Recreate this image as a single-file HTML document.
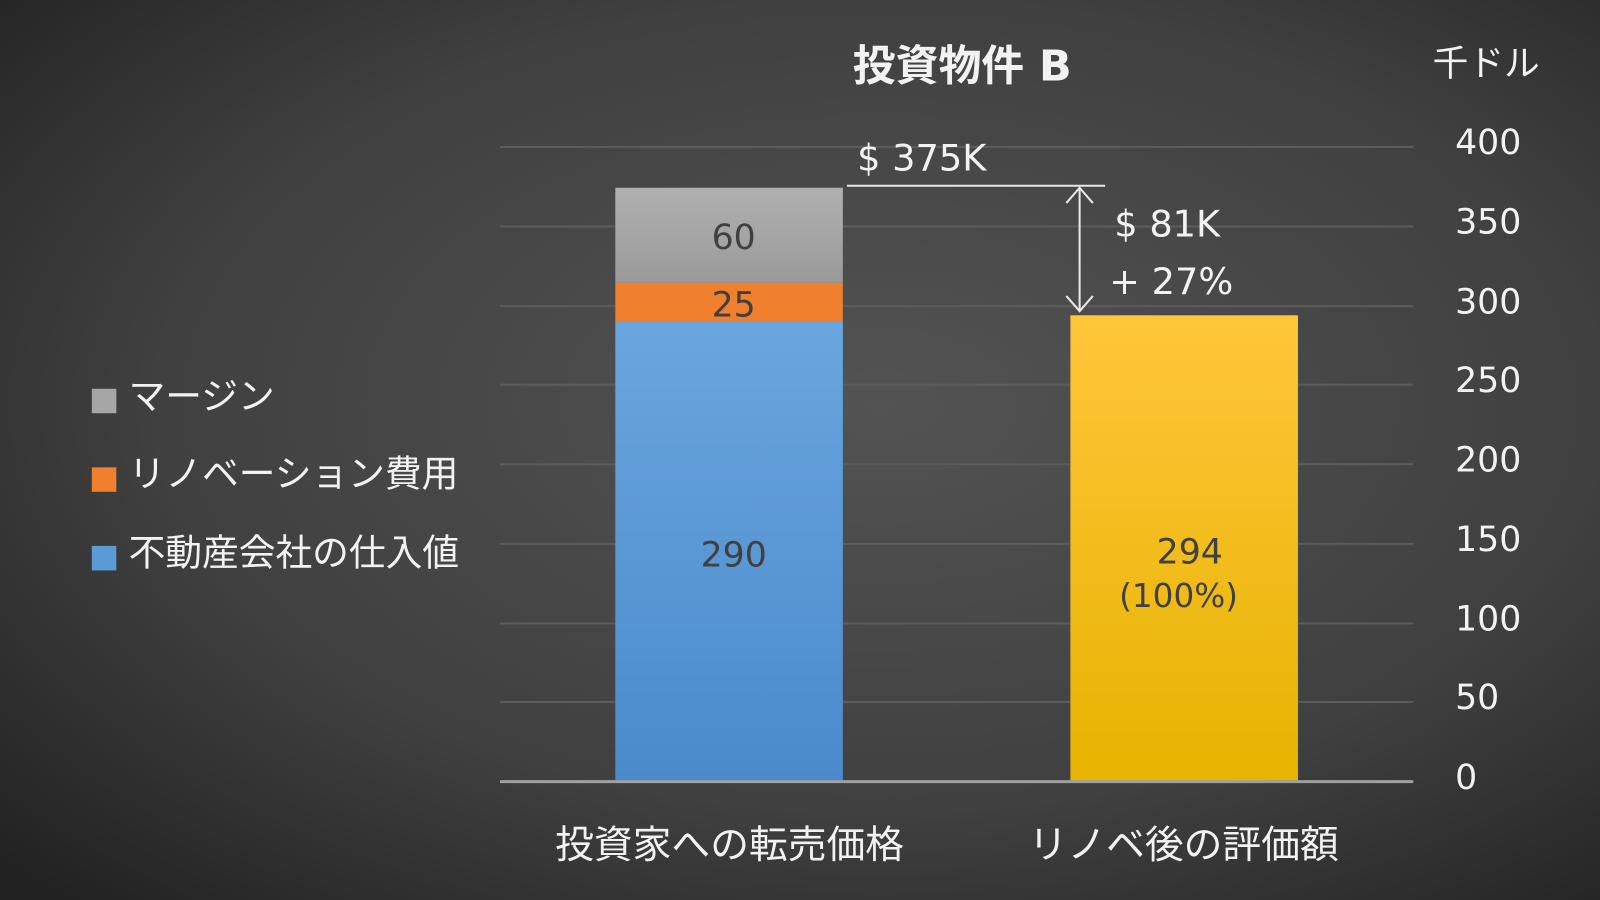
<!DOCTYPE html>
<html><head><meta charset="utf-8"><style>
html,body{margin:0;padding:0;width:1600px;height:900px;overflow:hidden;background:#2a2a2a}
svg{display:block}
text{font-family:"DejaVu Sans","Noto Sans CJK JP",sans-serif}
</style></head><body>
<svg width="1600" height="900" viewBox="0 0 1568 882" preserveAspectRatio="none" xmlns="http://www.w3.org/2000/svg">
<defs>
<radialGradient id="bg" cx="0.55" cy="0.45" r="0.75">
<stop offset="0" stop-color="#535353"/><stop offset="0.6" stop-color="#404040"/><stop offset="1" stop-color="#222"/>
</radialGradient>
<linearGradient id="blue" x1="0" y1="0" x2="0" y2="1"><stop offset="0" stop-color="#6aa6de"/><stop offset="1" stop-color="#4a8acb"/></linearGradient>
<linearGradient id="gold" x1="0" y1="0" x2="0" y2="1"><stop offset="0" stop-color="#ffc63a"/><stop offset="1" stop-color="#e6b300"/></linearGradient>
<linearGradient id="grey" x1="0" y1="0" x2="0" y2="1"><stop offset="0" stop-color="#b0b0b0"/><stop offset="1" stop-color="#9a9a9a"/></linearGradient>
</defs>
<rect width="1568" height="882" fill="url(#bg)"/>
<g stroke="#5c5c5c" stroke-width="2">
<line x1="490" x2="1385" y1="144" y2="144"/><line x1="490" x2="1385" y1="222" y2="222"/>
<line x1="490" x2="1385" y1="300" y2="300"/><line x1="490" x2="1385" y1="377" y2="377"/>
<line x1="490" x2="1385" y1="455" y2="455"/><line x1="490" x2="1385" y1="533" y2="533"/>
<line x1="490" x2="1385" y1="611" y2="611"/><line x1="490" x2="1385" y1="688" y2="688"/>
</g>
<rect x="603" y="315" width="223" height="451" fill="url(#blue)"/>
<rect x="603" y="277" width="223" height="38" fill="#f07f2e"/>
<rect x="603" y="184" width="223" height="93" fill="url(#grey)"/>
<rect x="1049" y="309" width="223" height="457" fill="url(#gold)"/>
<line x1="490" x2="1385" y1="766" y2="766" stroke="#a0a0a0" stroke-width="3"/>
<g font-size="34" fill="#404040" text-anchor="middle">
<text x="719" y="244">60</text><text x="719" y="310">25</text><text x="719" y="555">290</text>
<text x="1166" y="552">294</text><text x="1155" y="595" font-size="32">(100%)</text>
</g>
<g font-size="34" fill="#f2f2f2">
<text x="1426" y="151">400</text><text x="1426" y="229">350</text><text x="1426" y="307">300</text>
<text x="1426" y="384">250</text><text x="1426" y="462">200</text><text x="1426" y="540">150</text>
<text x="1426" y="618">100</text><text x="1426" y="695">50</text><text x="1426" y="773">0</text>
<text x="1404" y="74" font-size="35">千ドル</text>
<text x="943" y="79" font-size="42" font-weight="bold" text-anchor="middle">投資物件 B</text>
<text x="840" y="167" font-size="36">$ 375K</text>
<text x="1092" y="232" font-size="36">$ 81K</text>
<text x="1087" y="288" font-size="36">+ 27%</text>
<text x="126" y="401" font-size="36">マージン</text>
<text x="126" y="477" font-size="36">リノベーション費用</text>
<text x="126" y="554" font-size="36">不動産会社の仕入値</text>
<text x="715" y="841" font-size="38" text-anchor="middle">投資家への転売価格</text>
<text x="1160" y="841" font-size="38" text-anchor="middle">リノベ後の評価額</text>
</g>
<rect x="90" y="381" width="24" height="24" fill="#a6a6a6"/>
<rect x="90" y="458" width="24" height="24" fill="#f07f2e"/>
<rect x="90" y="535" width="24" height="24" fill="#5b9bd5"/>
<g stroke="#e8e8e8" stroke-width="2" fill="none">
<line x1="830" x2="1083" y1="182" y2="182"/>
<line x1="1058" x2="1058" y1="184" y2="305"/>
<polyline points="1045,199 1058,184 1071,199"/>
<polyline points="1045,290 1058,305 1071,290"/>
</g>
</svg>
</body></html>
